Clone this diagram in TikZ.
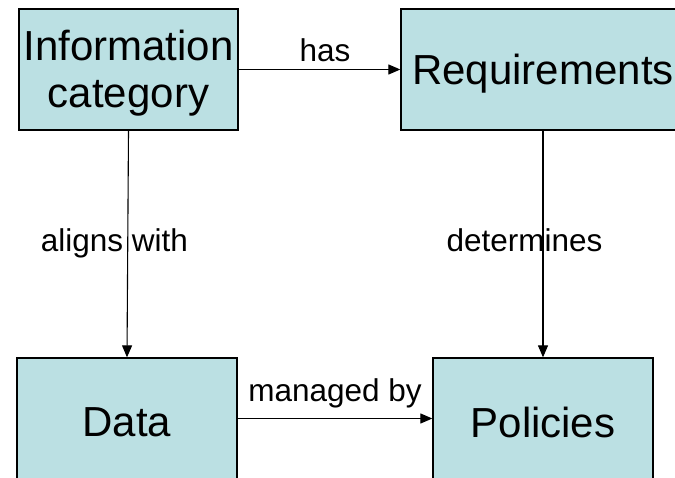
\documentclass[tikz,border=0pt]{standalone}
\usepackage{fontspec}
\setmainfont{Liberation Sans}
\usetikzlibrary{arrows.meta}
\definecolor{boxfill}{RGB}{187,224,227}
\newcommand{\lowr}[1]{\raisebox{-4pt}[\height][\depth]{#1}}
\tikzset{
  box/.style={draw=black, line width=1.3pt, fill=boxfill, inner sep=0pt, font=\fontsize{42}{47}\selectfont, align=center},
  conn/.style={draw=black, line width=1.1pt, -{Triangle[length=12pt,width=10pt]}},
  lbl/.style={font=\fontsize{31.5}{36}\selectfont, inner sep=0pt, anchor=base}
}
\begin{document}
\begin{tikzpicture}[x=1pt,y=-1pt]
\useasboundingbox (0,0) rectangle (675,478);
\fill[white] (0,0) rectangle (675,478);
\clip (0,0) rectangle (675,478);
\node[box, minimum width=219pt, minimum height=121pt] (info) at (128.5,69.5) {\lowr{Information}\\\lowr{category}};
\node[box, minimum width=284pt, minimum height=121pt] (req) at (543,69.5) {\lowr{Requirements}};
\node[box, minimum width=220pt, minimum height=121pt] (data) at (127,418.5) {\lowr{Data}};
\node[box, minimum width=220pt, minimum height=121pt] (pol) at (543,418.5) {\lowr{Policies}};
\draw[conn] (info.east) -- (req.west);
\draw[conn] (info.south) -- (data.north);
\draw[conn] (req.south) -- (pol.north);
\draw[conn] (data.east) -- (pol.west);
\node[lbl] (lhas) at (325,62) {has};
\node[lbl] (lman) at (335,402) {managed by};
\node[lbl] (lal) at (114.5,252) {aligns with};
\node[lbl] (ldet) at (524.5,252) {determines};
\end{tikzpicture}
\end{document}
